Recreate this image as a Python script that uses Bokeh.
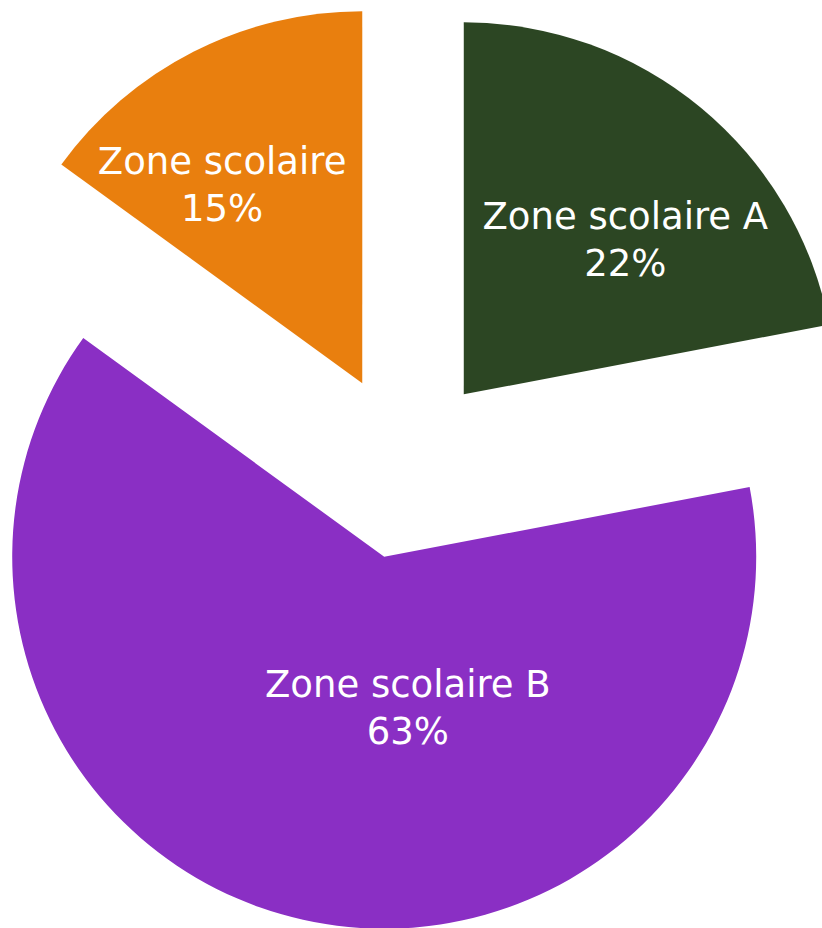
import math
from bokeh.plotting import figure
from bokeh.models import Range1d, ColumnDataSource
from bokeh.core.properties import value
from bokeh.embed import file_html
from bokeh.resources import INLINE

# ---- data ----
labels = ["Zone scolaire A", "Zone scolaire B", "Zone scolaire"]
shares = [22, 63, 15]
colors = ["#2C4623", "#8A2FC4", "#E97F0E"]

# ---- layout ----
W, H = 822, 928
R = 372.0          # pie radius (px)
EXPLODE = 93.0     # offset of each slice (px)
label_r = [0.85, 0.65, 0.90]      # label distance as fraction of radius
label_nudge = [4.7, -13.4, -6.0]  # degrees added to mid-angle for labels
FONT = "DejaVu Sans"
FONT_SIZE = "37px"
LINE_GAP = 23.5

total = float(sum(shares))
xs, ys, starts, ends, lx, ly, l1, l2 = [], [], [], [], [], [], [], []
cum = 0.0
for i, s in enumerate(shares):
    a0 = cum / total
    a1 = (cum + s) / total
    cum += s
    mid = (a0 + a1) / 2 * 2 * math.pi  # clockwise from top
    xs.append(EXPLODE * math.sin(mid))
    ys.append(EXPLODE * math.cos(mid))
    starts.append(math.pi / 2 - 2 * math.pi * a1)
    ends.append(math.pi / 2 - 2 * math.pi * a0)
    m2 = mid + math.radians(label_nudge[i])
    lx.append(label_r[i] * R * math.sin(m2))
    ly.append(label_r[i] * R * math.cos(m2))
    l1.append(labels[i])
    l2.append(f"{round(s / total * 100)}%")

src = ColumnDataSource(dict(x=xs, y=ys, start=starts, end=ends, color=colors,
                            lx=lx, ly=ly, l1=l1, l2=l2))

p = figure(width=W, height=H, output_backend="svg", toolbar_location=None,
           x_range=Range1d(-404, 418), y_range=Range1d(-462.5, 465.5),
           min_border=0)
p.axis.visible = False
p.grid.visible = False
p.outline_line_color = None
p.background_fill_color = "white"

p.wedge(x="x", y="y", radius=R, start_angle="start", end_angle="end",
        fill_color="color", line_color=None, source=src)

p.text(x="lx", y="ly", text="l1", source=src, text_color="white",
       text_font=value(FONT), text_font_size=FONT_SIZE,
       text_align="center", text_baseline="middle", y_offset=-LINE_GAP)
p.text(x="lx", y="ly", text="l2", source=src, text_color="white",
       text_font=value(FONT), text_font_size=FONT_SIZE,
       text_align="center", text_baseline="middle", y_offset=LINE_GAP)

open("out.html", "w").write(file_html(p, INLINE))
